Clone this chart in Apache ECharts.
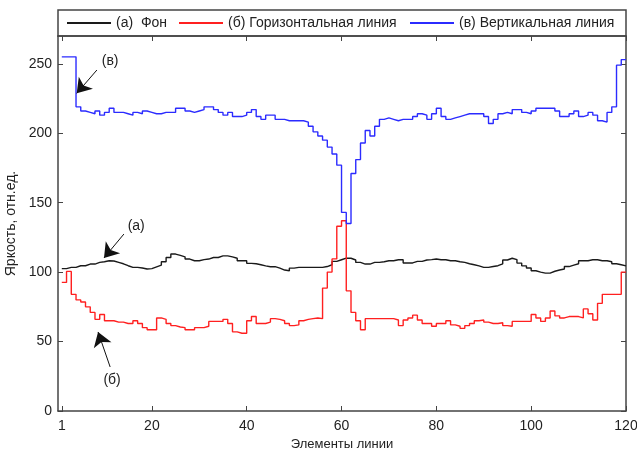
<!DOCTYPE html>
<html>
<head>
<meta charset="utf-8">
<script src="https://cdn.jsdelivr.net/npm/echarts@6/dist/echarts.min.js"></script>
<style>
html, body { margin: 0; background: #fff; }
#chart { width: 637px; height: 450px; }
</style>
</head>
<body>
<div id="chart"></div>
<script>
// подписи
var seriesNames = ['(а)  Фон', '(б) Горизонтальная линия', '(в) Вертикальная линия'];
var xTicks = [1, 20, 40, 60, 80, 100, 120];
var yTicks = [0, 50, 100, 150, 200, 250];

// (а) фон, элементы 1..120
var background = [
    102.5, 103.4, 103.4, 104.6, 104.6, 105.8, 105.8, 107, 107.5, 108.2,
    108, 107, 106, 104.6, 103.4, 103.4, 103, 102.2, 102.5, 103.8,
    105, 107.5, 110.5, 113, 112, 111, 109.4, 108.2, 108.2, 109,
    109.4, 110.5, 110.5, 111.7, 111.7, 111, 110, 108.2, 108.2, 106.3,
    106, 105.3, 104.5, 103.9, 103.9, 102.9, 101.5, 101, 102.9, 103.4,
    103.4, 103.4, 103.4, 103.4, 103.4, 104, 105.3, 107.7, 108.9, 110.1,
    110, 108.7, 107, 105.8, 105.8, 107, 107, 107.5, 108.2, 108.2,
    108.9, 108.9, 106.6, 106.6, 107.7, 107.7, 108.7, 109, 109.4, 108.9,
    108.9, 108.2, 108.2, 107.5, 107, 106, 105.3, 104.5, 103.4, 103.4,
    104, 104.6, 106, 108.7, 110, 109, 106.5, 104.5, 103, 101,
    100, 99.3, 99.3, 100.6, 101.5, 102.2, 104, 105, 106, 108.2,
    108.2, 108.9, 108.9, 108.2, 108.2, 107.5, 106, 105.3, 104.5, 104
];

// (б) горизонтальная линия
var horizontal = [
    92.6, 100.5, 84, 80, 78.5, 75, 71, 66, 69.5, 65,
    65, 64, 64, 63, 63, 65, 63, 60, 58.5, 58.5,
    67, 66, 63, 61.5, 60.5, 60, 58.5, 58.5, 60, 60,
    61, 64.5, 64.5, 64.5, 66, 63, 57, 56, 56, 65,
    68, 63, 63, 64, 66.5, 66, 65, 63, 61.5, 62,
    65, 66, 66.5, 67, 66.5, 88.5, 100, 109.5, 133, 137,
    86.5, 71, 65, 58.5, 66.5, 66.5, 66.5, 66.5, 66.5, 66.5,
    65.5, 61.5, 65.5, 67, 69, 65.5, 63, 63, 61, 63,
    63, 65, 62, 61, 59.5, 61.5, 63, 65, 65.5, 64,
    63, 63, 63.5, 61.5, 61, 64.5, 64.5, 64.5, 64.5, 69.5,
    67, 64.5, 67, 72, 68.5, 67, 68, 68, 68, 67,
    73.5, 70, 65.5, 77.5, 84, 84, 84, 84, 100, 100
];

// (в) вертикальная линия
var vertical = [
    255, 255, 255, 219, 216, 215, 214, 216, 213, 215,
    218, 215, 215, 214, 213, 215, 214, 216, 215, 214,
    214, 215, 215, 215, 218, 218, 216, 215, 216, 217,
    219, 219, 217, 215, 213, 215, 212, 212, 213, 215,
    217, 212, 210, 213, 213, 210, 210, 209, 209, 209,
    209, 208, 205, 201, 198, 195, 190, 185, 177, 143,
    135, 171, 181, 193, 202, 198, 205, 210, 211, 210,
    209, 210, 210, 210, 212, 214, 213, 210, 214, 218,
    212, 210, 211, 212, 213, 214, 214, 214, 214, 212,
    207, 210, 214, 215, 214, 217, 217, 215, 214, 216,
    218, 218, 218, 218, 216, 212, 212, 214, 216, 212,
    213, 215, 213, 209, 208, 215, 219, 249, 253, 253
];

// стрелки с подписями (в координатах данных)
var notes = [
    { text: '(в)', at: [11.2, 252], from: [8.4, 245.5], to: [4.15, 228.7] },
    { text: '(а)', at: [16.7, 133], from: [14.1, 127.4], to: [9.9, 110.2] },
    { text: '(б)', at: [11.6, 22.3], from: [11.2, 31.7], to: [8.65, 56.9] }
];

function toPoints(arr) {
    return arr.map(function (v, i) { return [i + 1, v]; });
}

var font = 'Liberation Sans, Arial, sans-serif';
var axisColor = '#444';
var textColor = '#222';
var lineW = 1.4;

var chart = echarts.init(document.getElementById('chart'));

// одна легенда на каждую серию, чтобы поставить их как в оригинале
function legendAt(left, name) {
    return {
        left: left,
        top: 16,
        padding: 0,
        data: [name],
        icon: 'rect',
        itemWidth: 44,
        itemHeight: 2,
        itemGap: 6,
        selectedMode: false,
        textStyle: { fontFamily: font, fontSize: 14, color: textColor }
    };
}

var xCommon = {
    type: 'value',
    min: 0.2,
    max: 120,
    splitLine: { show: false },
    axisLine: { show: true, onZero: false, lineStyle: { color: axisColor, width: 1.5 } },
    axisTick: { show: true, inside: true, length: 5, customValues: xTicks, lineStyle: { color: axisColor } }
};
var yCommon = {
    type: 'value',
    min: 0,
    max: 270,
    splitLine: { show: false },
    axisLine: { show: true, onZero: false, lineStyle: { color: axisColor, width: 1.5 } },
    axisTick: { show: true, inside: true, length: 5, customValues: yTicks, lineStyle: { color: axisColor } }
};

var option = {
    animation: false,
    backgroundColor: '#fff',
    textStyle: { fontFamily: font },
    graphic: [{
        // рамка легенды
        type: 'rect',
        z: 0,
        shape: { x: 58, y: 10, width: 568, height: 26 },
        style: { fill: '#fff', stroke: axisColor, lineWidth: 1.5 }
    }],
    legend: [
        legendAt(67, seriesNames[0]),
        legendAt(179, seriesNames[1]),
        legendAt(410, seriesNames[2])
    ],
    grid: { left: 58, right: 11, top: 36, bottom: 39, containLabel: false, outerBoundsMode: 'none' },
    xAxis: [
        Object.assign({}, xCommon, {
            position: 'bottom',
            axisLabel: { customValues: xTicks, margin: 8, color: textColor, fontSize: 14, fontFamily: font },
            name: 'Элементы линии',
            nameLocation: 'middle',
            nameGap: 22,
            nameTextStyle: { color: textColor, fontSize: 13, fontFamily: font }
        }),
        Object.assign({}, xCommon, { position: 'top', axisLabel: { show: false } })
    ],
    yAxis: [
        Object.assign({}, yCommon, {
            position: 'left',
            axisLabel: { customValues: yTicks, margin: 6, color: textColor, fontSize: 14, fontFamily: font },
            name: 'Яркость, отн.ед.',
            nameLocation: 'middle',
            nameGap: 37,
            nameTextStyle: { color: textColor, fontSize: 14, fontFamily: font }
        }),
        Object.assign({}, yCommon, { position: 'right', axisLabel: { show: false } })
    ],
    series: [
        {
            name: seriesNames[0],
            type: 'line',
            step: 'end',
            symbol: 'none',
            color: '#1a1a1a',
            lineStyle: { width: lineW },
            data: toPoints(background),
            markLine: {
                silent: true,
                symbol: ['none', 'arrow'],
                symbolSize: 14,
                label: { show: false },
                lineStyle: { color: '#111', width: 1, type: 'solid' },
                data: notes.map(function (n) {
                    return [{ coord: n.from }, { coord: n.to }];
                })
            },
            markPoint: {
                silent: true,
                symbol: 'circle',
                symbolSize: 0,
                label: {
                    show: true,
                    position: 'inside',
                    formatter: '{b}',
                    color: textColor,
                    fontSize: 14,
                    fontFamily: font
                },
                data: notes.map(function (n) {
                    return { name: n.text, coord: n.at };
                })
            }
        },
        {
            name: seriesNames[1],
            type: 'line',
            step: 'end',
            symbol: 'none',
            color: '#ff2020',
            lineStyle: { width: lineW },
            data: toPoints(horizontal)
        },
        {
            name: seriesNames[2],
            type: 'line',
            step: 'end',
            symbol: 'none',
            color: '#2b2bff',
            lineStyle: { width: lineW },
            data: toPoints(vertical)
        }
    ]
};

chart.setOption(option);
</script>
</body>
</html>
